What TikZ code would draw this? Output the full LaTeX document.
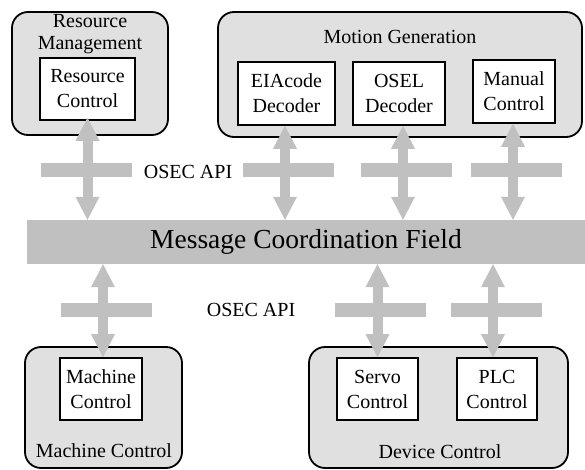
\documentclass[tikz,border=0pt]{standalone}
\usepackage{fontspec}
\setmainfont{Liberation Serif}
\usetikzlibrary{arrows.meta,calc}
\definecolor{argray}{RGB}{192,192,192}
\definecolor{boxgray}{RGB}{224,224,224}
\tikzset{
  outerbox/.style={draw=black, line width=1.8pt, fill=boxgray, rounded corners=16pt},
  innerbox/.style={draw=black, line width=1.6pt, fill=white, align=center, inner sep=0pt,
     font=\fontsize{20}{25}\selectfont},
  lbl/.style={inner sep=0pt, align=center, font=\fontsize{20}{22}\selectfont},
  apibar/.style={fill=argray, draw=none, minimum width=91pt, minimum height=14pt, inner sep=0pt},
  conn/.style={line width=10pt, draw=argray,
     {Triangle[width=24pt,length=23pt,line width=0pt]}-{Triangle[width=24pt,length=23pt,line width=0pt]}},
}
\begin{document}
\begin{tikzpicture}[x=1pt,y=-1pt]
\useasboundingbox (0,0) rectangle (585,470);
% outer boxes
\draw[outerbox] (12,12) rectangle (168,135);
\draw[outerbox] (218,12) rectangle (582,137);
\draw[outerbox] (25,347) rectangle (182,468);
\draw[outerbox] (309,347) rectangle (568,468);
\node[lbl] (rmlbl) at (90,34) {Resource\\Management};
\node[lbl] (mglbl) at (400,37) {Motion Generation};
\node[lbl] (mclbl) at (104,451) {Machine Control};
\node[lbl] (dclbl) at (440,452) {Device Control};
% inner boxes
\node[innerbox, minimum width=95pt, minimum height=62pt] (rc) at (87.5,89) {Resource\\Control};
\node[innerbox, minimum width=97pt, minimum height=63pt] (eia) at (286.5,93.5) {EIAcode\\Decoder};
\node[innerbox, minimum width=92pt, minimum height=63pt] (osel) at (399,93.5) {OSEL\\Decoder};
\node[innerbox, minimum width=82pt, minimum height=63pt] (man) at (514,91.5) {Manual\\Control};
\node[innerbox, minimum width=82pt, minimum height=62pt] (mach) at (101,389) {Machine\\Control};
\node[innerbox, minimum width=81pt, minimum height=62pt] (servo) at (377.5,389) {Servo\\Control};
\node[innerbox, minimum width=80pt, minimum height=62pt] (plc) at (497,389) {PLC\\Control};
% message coordination field
\node[fill=argray, minimum width=558pt, minimum height=44pt, inner sep=0pt,
      font=\fontsize{27.5}{30}\selectfont] (mcf) at (306,242) {Message Coordination Field};
% API bars
\node[apibar] (b1) at (86.5,170) {};
\node[apibar] (b2) at (288.5,170) {};
\node[apibar] (b3) at (406.5,170) {};
\node[apibar] (b4) at (516.5,170) {};
\node[apibar] (b5) at (106.5,310) {};
\node[apibar] (b6) at (380.5,310) {};
\node[apibar] (b7) at (496.5,310) {};
\node[lbl] (api1) at (188,172) {OSEC API};
\node[lbl] (api2) at (251,310) {OSEC API};
% connectors
\draw[conn] ([yshift=3pt]rc.south) -- (rc.south |- mcf.north);
\draw[conn] ([xshift=-1.5pt]eia.south) -- ([xshift=-1.5pt]eia.south |- mcf.north);
\draw[conn] ([xshift=4pt]osel.south) -- ([xshift=4pt]osel.south |- mcf.north);
\draw[conn] ([xshift=-1pt]man.south) -- ([xshift=-1pt]man.south |- mcf.north);
\draw[conn] ([xshift=2pt]mach.north) -- ([xshift=2pt]mach.north |- mcf.south);
\draw[conn] (servo.north) -- (servo.north |- mcf.south);
\draw[conn] ([xshift=-4pt]plc.north) -- ([xshift=-4pt]plc.north |- mcf.south);
\end{tikzpicture}
\end{document}
